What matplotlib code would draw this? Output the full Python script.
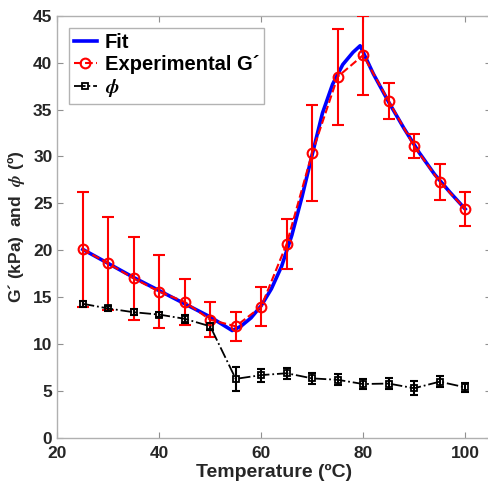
import matplotlib
matplotlib.use('Agg')
import matplotlib.pyplot as plt

plt.rcParams['font.family'] = 'Liberation Sans'
plt.rcParams['font.weight'] = 'bold'
plt.rcParams['mathtext.fontset'] = 'stix'

temp = [25, 30, 35, 40, 45, 50, 55, 60, 65, 70, 75, 80, 85, 90, 95, 100]
g_exp = [20.1, 18.6, 17.0, 15.6, 14.5, 12.6, 11.9, 14.0, 20.7, 30.4, 38.5, 40.8, 35.9, 31.1, 27.3, 24.4]
g_err = [6.1, 5.0, 4.45, 3.9, 2.45, 1.85, 1.55, 2.1, 2.65, 5.1, 5.1, 4.2, 1.9, 1.3, 1.9, 1.8]
phi = [14.3, 13.8, 13.4, 13.15, 12.7, 11.9, 6.3, 6.7, 6.9, 6.35, 6.2, 5.75, 5.8, 5.3, 6.0, 5.4]
phi_err = [0.3, 0.25, 0.3, 0.3, 0.4, 0.4, 1.25, 0.7, 0.6, 0.6, 0.6, 0.55, 0.6, 0.75, 0.6, 0.5]

# fitted curve
fit_x = [25, 30, 35, 40, 45, 50, 54.3, 56, 58, 60, 62, 64, 66, 68, 70, 72, 74, 76, 78, 79.4,
         82, 85, 88, 91, 94, 97, 100]
fit_y = [20.1, 18.6, 17.1, 15.7, 14.3, 12.9, 11.45, 11.9, 12.8, 14.1, 15.9, 18.3, 21.6, 25.7,
         30.2, 34.6, 37.7, 39.8, 41.1, 41.8, 38.8, 35.8, 33.0, 30.4, 28.1, 26.2, 24.4]

fig = plt.figure(figsize=(4.88, 4.95), dpi=100)
ax = fig.add_axes([0.1174, 0.1152, 0.888, 0.853])

ax.plot(fit_x, fit_y, color='#0000ff', lw=2.6, label='Fit', zorder=2)
ax.errorbar(temp, g_exp, yerr=g_err, fmt='none', ecolor='#ff0000', elinewidth=1.5,
            capsize=4, capthick=1.5, zorder=3)
ax.plot(temp, g_exp, color='#ff0000', ls='--', lw=1.5, marker='o', ms=7, mfc='none',
        mew=1.5, label='Experimental G´', zorder=4)
ax.errorbar(temp, phi, yerr=phi_err, fmt='none', ecolor='black', elinewidth=1.5,
            capsize=3, capthick=1.5, zorder=3)
ax.plot(temp, phi, color='black', ls='-.', lw=1.3, marker='s', ms=5, mfc='none',
        mew=1.3, label=r'$\phi$', zorder=4)

ax.set_xlim(20, 105)
ax.set_ylim(0, 45)
ax.set_xticks([20, 40, 60, 80, 100])
ax.set_yticks(range(0, 46, 5))
ax.tick_params(direction='in', length=4, color='#909090', labelsize=12.5,
               labelcolor='#262626', top=True, right=True)
ax.tick_params(axis='x', pad=6)
for s in ax.spines.values():
    s.set_color('#b0b0b0')
    s.set_linewidth(1.0)

ax.set_xlabel('Temperature (ºC)', fontsize=14, fontweight='bold', color='#262626', labelpad=2)
ax.set_ylabel(r'G´ (kPa)  and  $\phi$ (º)', fontsize=12.5, fontweight='bold', color='#262626')

leg = ax.legend(loc='upper left', fontsize=14.5, handlelength=1.1, frameon=True, fancybox=False,
                borderaxespad=0.6, handletextpad=0.4, labelspacing=0.15, borderpad=0.25)
leg.get_frame().set_edgecolor('#a0a0a0')
for t in leg.get_texts():
    t.set_fontweight('bold')

fig.savefig('out.png', dpi=100)
